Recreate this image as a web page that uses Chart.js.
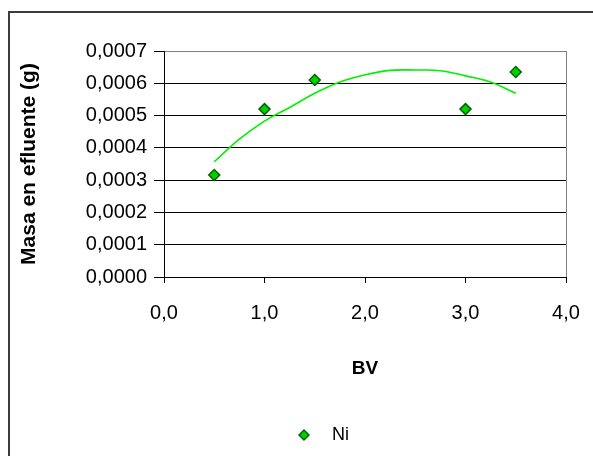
<!DOCTYPE html>
<html>
<head>
<meta charset="utf-8">
<script src="https://cdn.jsdelivr.net/npm/chart.js@4"></script>
<style>
  html, body { margin: 0; padding: 0; background: #fff; overflow: hidden; }
  #wrap { position: relative; width: 593px; height: 456px; overflow: hidden; }
  #frame { position: absolute; left: 8px; top: 11px; width: 700px; height: 600px; border: 2px solid #3c3c3c; box-sizing: border-box; }
  #chart { position: absolute; left: 0; top: 0; }
</style>
</head>
<body>
<div id="wrap">
  <div id="frame"></div>
  <canvas id="chart" width="593" height="456"></canvas>
</div>
<script>
// measured points (BV vs mass of Ni in effluent)
const bvValues = [0.5, 1.0, 1.5, 3.0, 3.5];
const niMass = [0.000316, 0.00052, 0.00061, 0.00052, 0.000635];

// trendline
const trendBV = [0.5, 0.75, 1.0, 1.25, 1.5, 1.75, 2.0, 2.25, 2.5, 2.75, 3.0, 3.25, 3.5];
const trendMass = [0.000357, 0.000427, 0.000483, 0.000525, 0.000569, 0.000604, 0.000626, 0.00064, 0.000641, 0.000639, 0.000623, 0.000604, 0.000569];

const xTicks = [0, 1, 2, 3, 4];
const yTicks = [0, 0.0001, 0.0002, 0.0003, 0.0004, 0.0005, 0.0006, 0.0007];

const seriesName = 'Ni';
const xTitle = 'BV';
const yTitle = 'Masa en efluente (g)';

const fontFamily = '"Liberation Sans", Arial, sans-serif';

const comma = (v, d) => v.toFixed(d).replace('.', ',');

new Chart(document.getElementById('chart'), {
  type: 'scatter',
  data: {
    datasets: [
      {
        label: seriesName,
        data: bvValues.map((x, i) => ({ x: x, y: niMass[i] })),
        pointStyle: 'rectRot',
        pointRadius: 5.5,
        pointHoverRadius: 5.5,
        backgroundColor: '#00d000',
        borderColor: '#006400',
        pointBorderWidth: 1.5,
        order: 2
      },
      {
        label: 'trend',
        data: trendBV.map((x, i) => ({ x: x, y: trendMass[i] })),
        showLine: true,
        pointRadius: 0,
        borderColor: '#00f000',
        borderWidth: 1.6,
        tension: 0.4,
        fill: false,
        order: 1
      }
    ]
  },
  options: {
    responsive: false,
    animation: false,
    devicePixelRatio: 1,
    layout: { padding: { left: 78, right: 27, top: 51, bottom: 2 } },
    plugins: {
      tooltip: { enabled: false },
      legend: {
        position: 'bottom',
        labels: {
          usePointStyle: true,
          boxHeight: 7,
          padding: 10,
          color: '#000',
          font: { family: fontFamily, size: 18 },
          filter: item => item.text.trim() === seriesName,
          generateLabels: chart => {
            const items = Chart.defaults.plugins.legend.labels.generateLabels(chart);
            items.forEach(it => { it.text = '  ' + it.text; });
            return items;
          }
        }
      }
    },
    scales: {
      x: {
        type: 'linear',
        min: 0,
        max: 4,
        afterFit: s => { s.height = 139; s.paddingLeft = 0; s.paddingRight = 0; },
        afterBuildTicks: s => { s.ticks = xTicks.map(v => ({ value: v })); },
        ticks: {
          color: '#000',
          padding: 18,
          font: { family: fontFamily, size: 20 },
          callback: v => comma(v, 1)
        },
        grid: {
          drawOnChartArea: true,
          color: c => (c.tick && c.tick.value === 4) ? '#808080' : 'rgba(0,0,0,0)',
          tickColor: '#000',
          tickLength: 6
        },
        border: { color: '#000', width: 1 },
        title: {
          display: true,
          text: xTitle,
          color: '#000',
          font: { family: fontFamily, size: 19, weight: 'bold' },
          padding: { top: 0, bottom: 36 }
        }
      },
      y: {
        type: 'linear',
        min: 0,
        max: 0.0007,
        afterFit: s => { s.width = 86; s.paddingTop = 0; s.paddingBottom = 0; },
        afterBuildTicks: s => { s.ticks = yTicks.map(v => ({ value: v })); },
        ticks: {
          color: '#000',
          padding: 7,
          font: { family: fontFamily, size: 20 },
          callback: v => comma(v, 4)
        },
        grid: {
          color: c => (c.tick && c.tick.value === 0.0007) ? '#808080' : '#000',
          tickColor: '#000',
          tickLength: 10
        },
        border: { color: '#000', width: 1 },
        title: {
          display: true,
          text: yTitle,
          color: '#000',
          font: { family: fontFamily, size: 21, weight: 'bold' },
          padding: { top: -61.6, bottom: 0 }
        }
      }
    }
  }
});
</script>
</body>
</html>
